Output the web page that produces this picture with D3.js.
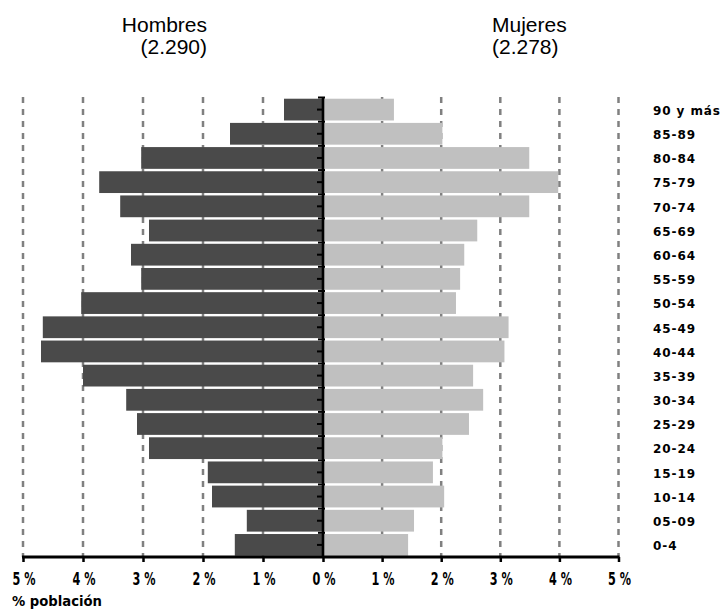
<!DOCTYPE html>
<html>
<head>
<meta charset="utf-8">
<script src="https://cdn.jsdelivr.net/npm/d3@7"></script>
<style>
  html, body { margin: 0; padding: 0; background: #fff; }
  svg { display: block; }
</style>
</head>
<body>
<svg id="chart" width="721" height="609"></svg>
<script>
const categories = ["90 y más","85-89","80-84","75-79","70-74","65-69","60-64","55-59","50-54","45-49","40-44","35-39","30-34","25-29","20-24","15-19","10-14","05-09","0-4"];
const hombres = [0.65,1.55,3.03,3.73,3.38,2.90,3.20,3.03,4.03,4.67,4.70,4.00,3.28,3.10,2.90,1.92,1.85,1.27,1.47];
const mujeres = [1.20,2.02,3.49,3.98,3.49,2.61,2.39,2.32,2.25,3.14,3.07,2.54,2.71,2.47,2.02,1.86,2.05,1.54,1.44];
const tickValues = [-5,-4,-3,-2,-1,0,1,2,3,4,5];
const titleLeft = ["Hombres", "(2.290)"];
const titleRight = ["Mujeres", "(2.278)"];
const xAxisTitle = "% población";

const svg = d3.select("#chart");
const x = d3.scaleLinear().domain([-5, 0, 5]).range([23, 323, 618.5]);
const y = d3.scaleBand().domain(categories).range([97.5, 557]).paddingInner(0.1).paddingOuter(0.05);
const yTop = 97, yBottom = 557;

// Gridlines (dashed)
svg.append("g").selectAll("line")
  .data(tickValues.filter(d => d !== 0))
  .join("line")
  .attr("x1", d => x(d)).attr("x2", d => x(d))
  .attr("y1", yTop).attr("y2", yBottom)
  .attr("stroke", "#808080")
  .attr("stroke-width", 2.5)
  .attr("stroke-dasharray", "6,6");

// Male bars
svg.append("g").selectAll("rect")
  .data(categories)
  .join("rect")
  .attr("x", (d, i) => x(-hombres[i]))
  .attr("y", d => y(d))
  .attr("width", (d, i) => x(0) - x(-hombres[i]))
  .attr("height", y.bandwidth())
  .attr("fill", "#4a4a4a");

// Female bars
svg.append("g").selectAll("rect")
  .data(categories)
  .join("rect")
  .attr("x", x(0))
  .attr("y", d => y(d))
  .attr("width", (d, i) => x(mujeres[i]) - x(0))
  .attr("height", y.bandwidth())
  .attr("fill", "#c0c0c0");

// Center axis line
const step = y.step();
const cg = svg.append("g");
cg.append("line")
  .attr("x1", x(0)).attr("x2", x(0))
  .attr("y1", yTop).attr("y2", yBottom)
  .attr("stroke", "#000").attr("stroke-width", 2.6);
cg.selectAll("line.b")
  .data(categories)
  .join("line").attr("class", "b")
  .attr("x1", x(0) - 5).attr("x2", x(0) + 2)
  .attr("y1", d => y(d) - y.paddingInner() * step / 2)
  .attr("y2", d => y(d) - y.paddingInner() * step / 2)
  .attr("stroke", "#000").attr("stroke-width", 2);
cg.selectAll("line.c")
  .data(categories)
  .join("line").attr("class", "c")
  .attr("x1", x(0) - 6).attr("x2", x(0))
  .attr("y1", d => y(d) + y.bandwidth() / 2)
  .attr("y2", d => y(d) + y.bandwidth() / 2)
  .attr("stroke", "#000").attr("stroke-width", 2);

// X axis
const xAxis = d3.axisBottom(x)
  .tickValues(tickValues)
  .tickSize(5)
  .tickSizeOuter(0)
  .tickFormat(d => Math.abs(d) + " %");
const xg = svg.append("g").attr("transform", `translate(0,${yBottom})`).call(xAxis);
xg.select(".domain").attr("stroke", "#000").attr("stroke-width", 3).attr("d", `M${x(-5)-1},0H${x(5)+1}`);
xg.selectAll(".tick line").attr("stroke", "#000").attr("stroke-width", 2.5);
xg.selectAll(".tick text")
  .attr("x", 0.5)
  .attr("y", 22).attr("dy", "0.35em")
  .attr("fill", "#000")
  .attr("textLength", 23)
  .attr("lengthAdjust", "spacingAndGlyphs")
  .style("font-family", "'DejaVu Sans Condensed', 'DejaVu Sans', sans-serif")
  .style("font-weight", "bold")
  .style("font-size", "17px");

// Right category labels
svg.append("g").selectAll("text")
  .data(categories)
  .join("text")
  .attr("x", 653)
  .attr("y", d => y(d) + y.bandwidth() / 2 + 1)
  .attr("dy", "0.36em")
  .style("font-family", "'DejaVu Sans', sans-serif")
  .style("font-weight", "bold")
  .style("font-size", "12px")
  .style("letter-spacing", "0.9px")
  .text(d => d);

// X axis title
svg.append("text")
  .attr("x", 12).attr("y", 606)
  .attr("textLength", 90)
  .attr("lengthAdjust", "spacingAndGlyphs")
  .style("font-family", "'DejaVu Sans Condensed', 'DejaVu Sans', sans-serif")
  .style("font-weight", "bold")
  .style("font-size", "14px")
  .text(xAxisTitle);

// Titles
const tl = svg.append("text").attr("text-anchor", "end")
  .style("font-family", "'Liberation Sans', Arial, sans-serif").style("font-size", "21px");
tl.selectAll("tspan").data(titleLeft).join("tspan")
  .attr("x", 207).attr("y", (d, i) => i === 0 ? 32 : 54).text(d => d);
const tr = svg.append("text").attr("text-anchor", "start")
  .style("font-family", "'Liberation Sans', Arial, sans-serif").style("font-size", "21px");
tr.selectAll("tspan").data(titleRight).join("tspan")
  .attr("x", 492).attr("y", (d, i) => i === 0 ? 32 : 54).text(d => d);
</script>
</body>
</html>
